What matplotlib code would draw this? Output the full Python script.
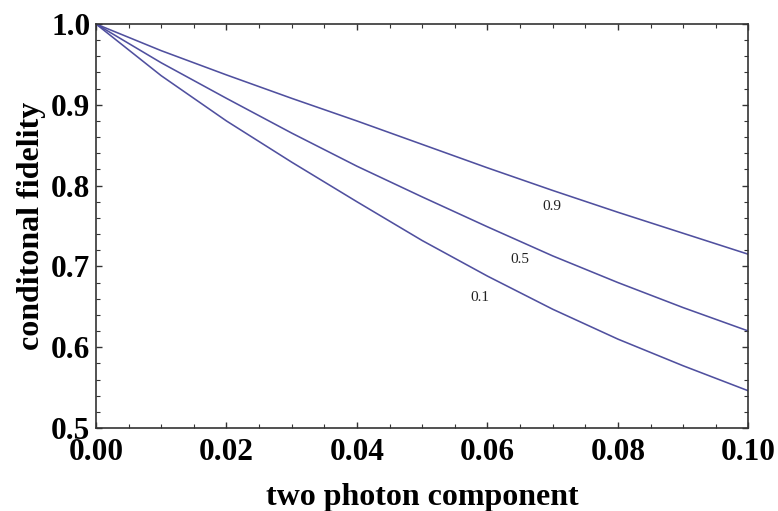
import numpy as np
import matplotlib.pyplot as plt
from matplotlib.ticker import MultipleLocator

# photon component (x) and fidelity curves
x = [0.0, 0.01, 0.02, 0.03, 0.04, 0.05, 0.06, 0.07, 0.08, 0.09, 0.10]
fid_09 = [1.0, 0.967, 0.937, 0.908, 0.880, 0.851, 0.822, 0.794, 0.767, 0.741, 0.715]
fid_05 = [1.0, 0.952, 0.908, 0.865, 0.824, 0.786, 0.749, 0.713, 0.680, 0.649, 0.620]
fid_01 = [1.0, 0.936, 0.880, 0.829, 0.780, 0.732, 0.688, 0.647, 0.610, 0.577, 0.546]

curve_labels = ['0.9', '0.5', '0.1']
label_pos = [(0.0699, 0.774), (0.065, 0.709), (0.0588, 0.662)]

plt.rcParams['font.family'] = ['Liberation Serif', 'DejaVu Serif']

fig = plt.figure(figsize=(7.78, 5.11), dpi=100)
ax = fig.add_axes([0.1234, 0.1624, 0.8386, 0.7906])

line_color = '#50509f'
for ys in [fid_09, fid_05, fid_01]:
    ax.plot(x, ys, color=line_color, lw=1.15)

for txt, (lx, ly) in zip(curve_labels, label_pos):
    ax.text(lx, ly, txt, fontsize=11, ha='center', va='center', color='#222222')

ax.set_xlim(0, 0.1)
ax.set_ylim(0.5, 1.0)
ax.xaxis.set_major_locator(MultipleLocator(0.02))
ax.xaxis.set_minor_locator(MultipleLocator(0.005))
ax.yaxis.set_major_locator(MultipleLocator(0.1))
ax.yaxis.set_minor_locator(MultipleLocator(0.02))
ax.xaxis.set_major_formatter(plt.FuncFormatter(lambda v, p: f'{v:.2f}'))
ax.yaxis.set_major_formatter(plt.FuncFormatter(lambda v, p: f'{v:.1f}'))

ax.tick_params(which='both', direction='in', top=True, right=True, color='#333333')
ax.tick_params(which='major', length=4.5, width=1.0, labelsize=22.5)
ax.tick_params(axis='x', which='major', pad=7)
ax.tick_params(axis='y', which='major', pad=4)
ax.tick_params(which='minor', length=3, width=0.8)
for lab in ax.get_xticklabels() + ax.get_yticklabels():
    lab.set_fontweight('bold')
for s in ax.spines.values():
    s.set_linewidth(1.2)
    s.set_color('#333333')

ax.set_xlabel('two photon component', fontsize=23, fontweight='bold', labelpad=12)
ax.set_ylabel('conditonal fidelity', fontsize=23, fontweight='bold', labelpad=4)

fig.savefig('out.png', dpi=100)
